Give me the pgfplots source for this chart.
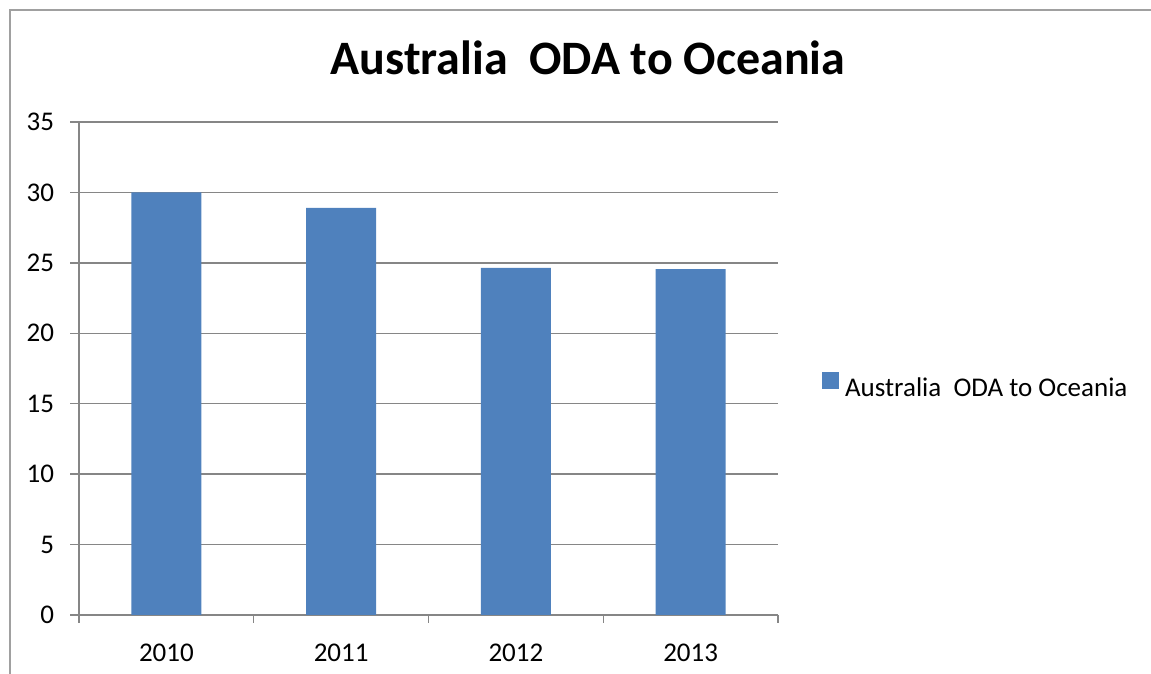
\documentclass[border=0pt]{standalone}
\usepackage{fontspec}
\setmainfont{Carlito}
\usepackage{pgfplots}
\pgfplotsset{compat=1.18}
\definecolor{barblue}{RGB}{79,129,189}
\definecolor{gridgray}{RGB}{134,134,134}
\definecolor{framegray}{RGB}{160,160,160}
\begin{document}
\begin{tikzpicture}
\path[use as bounding box] (0,0) rectangle (575.5pt,337pt);
\draw[framegray, line width=1pt] (5pt,0) -- (5pt,332pt) -- (575.5pt,332pt);
\node[anchor=base, inner sep=0pt, font=\bfseries\fontsize{24}{29}\selectfont] at (294pt,299.5pt) {Australia\ \ ODA to Oceania};
\begin{axis}[
 at={(39.5pt,29.5pt)}, anchor=south west,
 scale only axis, width=349.5pt, height=246.5pt,
 xmin=-0.5, xmax=3.5, ymin=0, ymax=35,
 ytick={0,5,...,35},
 xtick={0,1,2,3}, xticklabels={2010,2011,2012,2013},
 minor xtick={-0.5,0.5,1.5,2.5,3.5},
 axis x line=bottom, axis y line=left,
 axis line style={-, gridgray, line width=0.7pt},
 tick align=outside,
 major tick length=4.5pt, minor tick length=4pt,
 major x tick style={draw=none},
 minor x tick style={gridgray, line width=0.7pt},
 ytick style={gridgray, line width=0.7pt},
 ymajorgrids, grid style={gridgray, line width=0.7pt},
 tick label style={font=\fontsize{13.5}{16}\selectfont},
 yticklabel style={xshift=-4.5pt},
 xticklabel style={yshift=-6.5pt},
 /pgf/number format/assume math mode=true,
 ybar, bar width=35pt,
 legend image code/.code={\fill[barblue] (0pt,0pt) rectangle (8.5pt,8.5pt);},
 legend style={at={(1.0625,0.4645)}, anchor=west, draw=none, fill=none, inner sep=0pt,
   nodes={inner sep=0pt}, font=\fontsize{13.5}{16}\selectfont,
   /tikz/every odd column/.append style={column sep=3pt}},
 legend cell align=left,
]
\addplot[fill=barblue, draw=none] coordinates {(0,30.0) (1,28.9) (2,24.65) (3,24.55)};
\legend{Australia\ \ ODA to Oceania}
\end{axis}
\end{tikzpicture}
\end{document}
